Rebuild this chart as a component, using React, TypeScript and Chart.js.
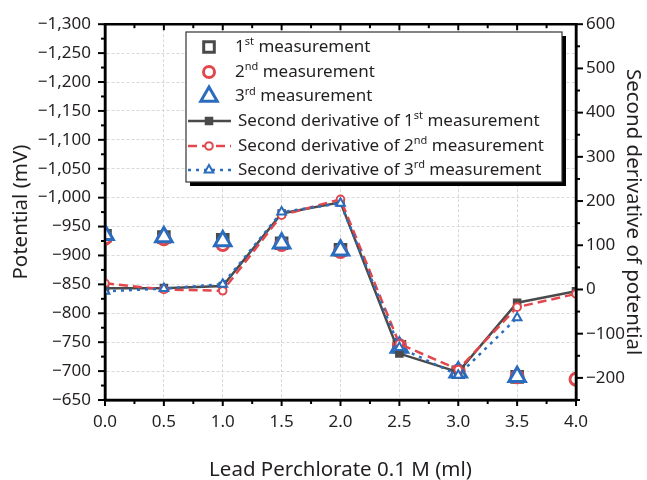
import React, { useEffect, useRef } from "react";
import { Chart, registerables } from "chart.js";

Chart.register(...registerables);

// ---------- data ----------
const xValues = [0, 0.5, 1, 1.5, 2, 2.5, 3, 3.5, 4];
const meas1 = [-934, -932, -927, -921, -910, -742, -698, -690, null];
const meas2 = [-930, -929, -919, -919, -907, -744, -700, -690, -686];
const meas3 = [-936, -932, -925, -921, -909, -741, -698, -690, null];
const deriv1 = [3, 3, 8, 172, 197, -145, -187, -30, -4];
const deriv2 = [14, 0, -3, 168, 204, -123, -181, -40, -10];
const deriv3 = [-4, 2, 12, 175, 195, -131, -194, -64, null];

const leftMin = -1300;
const leftMax = -650;
const rightMin = -250;
const rightMax = 600;

const xTitle = "Lead Perchlorate 0.1 M (ml)";
const leftTitle = "Potential (mV)";
const rightTitle = "Second derivative of potential";

// legend label parts: [text, isSuperscript]
const legendLabels: [string, boolean][][] = [
  [["1", false], ["st", true], [" measurement", false]],
  [["2", false], ["nd", true], [" measurement", false]],
  [["3", false], ["rd", true], [" measurement", false]],
  [["Second derivative of 1", false], ["st", true], [" measurement", false]],
  [["Second derivative of 2", false], ["nd", true], [" measurement", false]],
  [["Second derivative of 3", false], ["rd", true], [" measurement", false]],
];

// ---------- styles ----------
const GRAY = "#4a4a4a";
const RED = "#e2474d";
const BLUE = "#2a6cbd";
const TEXT = "#231f20";
const FONT = '"Noto Sans", "Open Sans", sans-serif';

const fmtNum = (v: number) =>
  (v < 0 ? "\u2212" : "") + Math.abs(v).toLocaleString("en-US");

function drawMarker(
  ctx: CanvasRenderingContext2D,
  style: string,
  x: number,
  y: number,
  r: number,
  color: string,
  fill: string,
  bw: number
) {
  ctx.save();
  ctx.setLineDash([]);
  ctx.beginPath();
  if (style === "rect") {
    const s = Math.SQRT1_2 * r;
    ctx.rect(x - s, y - s, 2 * s, 2 * s);
  } else if (style === "circle") {
    ctx.arc(x, y, r, 0, Math.PI * 2);
  } else {
    for (let k = 0; k < 3; k++) {
      const a = (k * 2 * Math.PI) / 3;
      const px = x + Math.sin(a) * r;
      const py = y - Math.cos(a) * r;
      if (k === 0) ctx.moveTo(px, py);
      else ctx.lineTo(px, py);
    }
    ctx.closePath();
  }
  ctx.fillStyle = fill;
  ctx.fill();
  ctx.lineWidth = bw;
  ctx.strokeStyle = color;
  ctx.stroke();
  ctx.restore();
}

const clipPlugin = {
  id: "clipData",
  beforeDatasetsDraw(chart: any) {
    const { ctx, chartArea: a } = chart;
    ctx.save();
    ctx.beginPath();
    ctx.rect(a.left, a.top, a.right - a.left, a.bottom - a.top);
    ctx.clip();
  },
  afterDatasetsDraw(chart: any) {
    chart.ctx.restore();
  },
};

const framePlugin = {
  id: "frameTicks",
  afterDatasetsDraw(chart: any) {
    const { ctx, chartArea: a, scales } = chart;
    const sx = scales.x;
    const sl = scales.y;
    const sr = scales.y2;
    ctx.save();
    ctx.strokeStyle = "#000";
    ctx.setLineDash([]);
    const ln = (x1: number, y1: number, x2: number, y2: number) => {
      ctx.beginPath();
      ctx.moveTo(x1, y1);
      ctx.lineTo(x2, y2);
      ctx.stroke();
    };
    ctx.lineWidth = 2.5;
    ln(a.left - 1.25, a.top, a.right + 1.25, a.top);
    ln(a.left, a.top, a.left, a.bottom);
    ln(a.right, a.top, a.right, a.bottom);
    ln(a.left - 1.25, a.bottom, a.right + 1.25, a.bottom);
    ctx.lineWidth = 2;
    for (let i = 0; i <= 16; i++) {
      const v = i * 0.25;
      const px = sx.getPixelForValue(v);
      const major = i % 2 === 0;
      const len = major ? 6 : 4;
      ln(px, a.bottom, px, a.bottom + len);
      ln(px, a.top, px, a.top + len);
    }
    for (let v = leftMin; v <= leftMax; v += 25) {
      const py = sl.getPixelForValue(v);
      const len = v % 50 === 0 ? 7 : 4;
      ln(a.left - len, py, a.left, py);
    }
    for (let v = rightMin; v <= rightMax; v += 50) {
      const py = sr.getPixelForValue(v);
      const len = v % 100 === 0 ? 7 : 4;
      ln(a.right, py, a.right + len, py);
    }
    ctx.restore();
  },
};

const legendPlugin = {
  id: "customLegend",
  afterDraw(chart: any) {
    const { ctx } = chart;
    const bx = 186,
      by = 32,
      bw = 376,
      bh = 150;
    ctx.save();
    ctx.fillStyle = "#000";
    ctx.fillRect(bx + 4, by + 4, bw, bh);
    ctx.fillStyle = "#fff";
    ctx.fillRect(bx, by, bw, bh);
    ctx.strokeStyle = "#333";
    ctx.lineWidth = 1.2;
    ctx.strokeRect(bx, by, bw, bh);

    const rows = [47, 72, 96.5, 121, 146, 170];
    const mx = 209;
    const ds = chart.data.datasets;
    for (let i = 0; i < 6; i++) {
      const y = rows[i];
      const d = ds[i];
      if (i < 3) {
        drawMarker(ctx, d.pointStyle, mx, y, d.legendRadius, d.pointBorderColor, "#fff", d.pointBorderWidth);
      } else {
        ctx.save();
        ctx.strokeStyle = d.borderColor;
        ctx.lineWidth = d.borderWidth;
        ctx.setLineDash(d.borderDash || []);
        ctx.beginPath();
        ctx.moveTo(188, y);
        ctx.lineTo(231, y);
        ctx.stroke();
        ctx.restore();
        drawMarker(ctx, d.pointStyle, mx, y, d.pointRadius, d.pointBorderColor, d.pointBackgroundColor, d.pointBorderWidth);
      }
      let tx = i < 3 ? 235 : 238;
      ctx.fillStyle = TEXT;
      ctx.textBaseline = "middle";
      ctx.textAlign = "left";
      for (const [t, sup] of legendLabels[i]) {
        ctx.font = sup ? `11px ${FONT}` : `17px ${FONT}`;
        ctx.fillText(t, tx, sup ? y - 5 : y);
        tx += ctx.measureText(t).width;
      }
    }
    ctx.restore();
  },
};

export default function App() {
  const ref = useRef<HTMLCanvasElement>(null);
  useEffect(() => {
    document.body.style.margin = "0";
    const scatter = (label: string, vals: (number | null)[], style: string, color: string, r: number, lr: number, order: number) => ({
      label,
      data: xValues.map((x, i) => ({ x, y: vals[i] })),
      yAxisID: "y",
      showLine: false,
      pointStyle: style,
      pointRadius: r,
      legendRadius: lr,
      pointBorderWidth: 3,
      pointBorderColor: color,
      pointBackgroundColor: "#fff",
      borderColor: color,
      backgroundColor: "#fff",
      clip: 0,
      order,
    });
    const deriv = (label: string, vals: (number | null)[], style: string, color: string, dash: number[], r: number, fill: string, bw: number, order: number) => ({
      label,
      data: xValues.map((x, i) => ({ x, y: vals[i] })),
      yAxisID: "y2",
      showLine: true,
      borderColor: color,
      borderWidth: 2.5,
      borderDash: dash,
      pointStyle: style,
      pointRadius: r,
      pointBorderWidth: bw,
      pointBorderColor: color,
      pointBackgroundColor: fill,
      backgroundColor: fill,
      tension: 0,
      clip: 0,
      order,
    });
    const tickFont = { family: FONT, size: 17 };
    const titleFont = { family: FONT, size: 20.5, lineHeight: 1 };
    const chart = new Chart(ref.current as HTMLCanvasElement, {
      type: "line",
      data: {
        datasets: [
          scatter("1st measurement", meas1, "rect", GRAY, 7.5, 7.5, 6),
          scatter("2nd measurement", meas2, "circle", RED, 6, 5.5, 5),
          scatter("3rd measurement", meas3, "triangle", BLUE, 9.5, 9.5, 4),
          deriv("Second derivative of 1st measurement", deriv1, "rect", GRAY, [], 5, GRAY, 1.5, 3),
          deriv("Second derivative of 2nd measurement", deriv2, "circle", RED, [9, 5], 3.8, "#fff", 2, 2),
          deriv("Second derivative of 3rd measurement", deriv3, "triangle", BLUE, [3, 5], 5, "#fff", 2, 1),
        ] as any,
      },
      options: {
        responsive: false,
        animation: false,
        devicePixelRatio: 1,
        layout: { padding: { top: 20, left: 0, right: 0, bottom: 0 } },
        plugins: { legend: { display: false }, tooltip: { enabled: false } },
        scales: {
          x: {
            type: "linear",
            position: "bottom",
            min: 0,
            max: 4,
            afterFit: (s: any) => {
              s.height = 80;
            },
            ticks: {
              stepSize: 0.5,
              autoSkip: false,
              maxRotation: 0,
              padding: 12,
              color: TEXT,
              font: tickFont,
              callback: (v: any) => Number(v).toFixed(1),
            },
            grid: { color: "#d8d8d8", lineWidth: 1, drawTicks: false },
            border: { display: true, color: "#000", width: 2.5, dash: [3, 2] },
            title: { display: true, text: xTitle, color: TEXT, font: titleFont, padding: { top: 0, bottom: 0 } },
          },
          y: {
            type: "linear",
            position: "left",
            reverse: true,
            min: leftMin,
            max: leftMax,
            afterFit: (s: any) => {
              s.width = 105;
            },
            ticks: {
              stepSize: 50,
              autoSkip: false,
              padding: 14,
              color: TEXT,
              font: tickFont,
              callback: (v: any) => fmtNum(Number(v)),
            },
            grid: { color: "#d8d8d8", lineWidth: 1, drawTicks: false },
            border: { display: true, color: "#000", width: 2.5, dash: [3, 2] },
            title: { display: true, text: leftTitle, color: TEXT, font: titleFont, padding: { top: 11, bottom: 0 } },
          },
          y2: {
            type: "linear",
            position: "right",
            min: rightMin,
            max: rightMax,
            afterFit: (s: any) => {
              s.width = 71;
            },
            ticks: {
              stepSize: 100,
              autoSkip: false,
              padding: 10,
              color: TEXT,
              font: tickFont,
              callback: (v: any) => (Number(v) % 100 === 0 ? fmtNum(Number(v)) : ""),
            },
            grid: { drawOnChartArea: false, drawTicks: false },
            border: { display: true, color: "#000", width: 2.5 },
            title: { display: true, text: rightTitle, color: TEXT, font: titleFont, padding: { top: 4, bottom: 0 } },
          },
        },
      } as any,
      plugins: [clipPlugin, framePlugin, legendPlugin],
    });
    return () => chart.destroy();
  }, []);
  return <canvas ref={ref} width={647} height={480} style={{ display: "block" }} />;
}
